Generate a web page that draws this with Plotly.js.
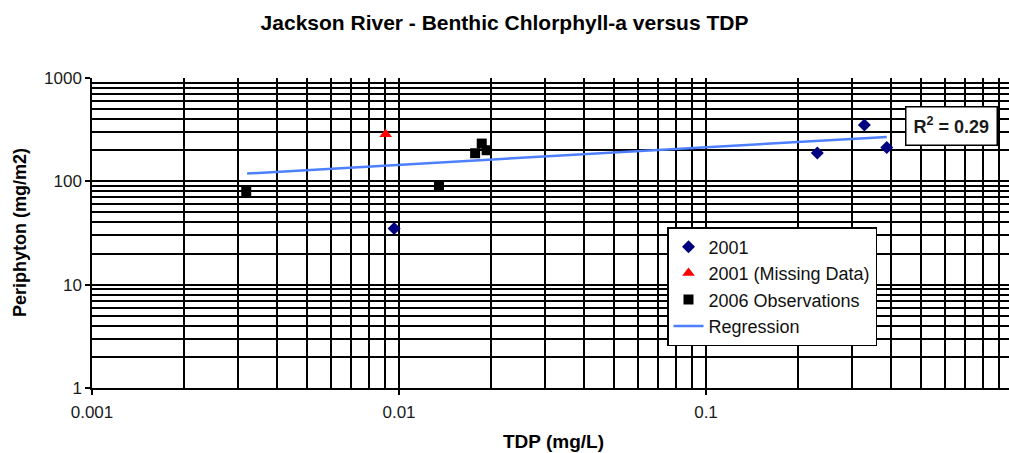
<!DOCTYPE html>
<html>
<head>
<meta charset="utf-8">
<script src="https://cdn.plot.ly/plotly-3.0.1.min.js"></script>
<style>html,body{margin:0;padding:0;overflow:hidden;background:#fff}#chart{width:1009px;height:453px}</style>
</head>
<body>
<div id="chart"></div>
<script>
// Data
const tdp2001 = [0.00964, 0.2305, 0.328, 0.388];
const peri2001 = [35, 188, 350, 212];
const tdpMissing = [0.00905];
const periMissing = [286];
const tdp2006 = [0.00318, 0.0135, 0.0177, 0.0186, 0.0193];
const peri2006 = [80, 89, 187, 232, 200];
const regTdp = [0.0032, 0.388];
const regPeri = [119, 269];
const rSquared = "0.29";

const xMajor = [0.001, 0.01, 0.1, 1];
const xMajorText = ["0.001", "0.01", "0.1", "1"];
const yMajor = [1, 10, 100, 1000];
const yMajorText = ["1", "10", "100", "1000"];

function minorVals(loExp, hiExp) {
  const out = [];
  for (let e = loExp; e < hiExp; e++)
    for (let k = 2; k <= 9; k++) out.push(Number((k * Math.pow(10, e)).toPrecision(6)));
  return out;
}

const font = "Liberation Sans, Arial, sans-serif";

const traces = [
  {x: tdp2001, y: peri2001, mode: 'markers', type: 'scatter', name: '2001',
   marker: {symbol: 'diamond', color: '#000080', size: 10}},
  {x: tdpMissing, y: periMissing, mode: 'markers', type: 'scatter', name: '2001 (Missing Data)',
   marker: {symbol: 'triangle-up', color: '#ff0000', size: 11}},
  {x: tdp2006, y: peri2006, mode: 'markers', type: 'scatter', name: '2006 Observations',
   marker: {symbol: 'square', color: '#000000', size: 10}},
  {x: regTdp, y: regPeri, mode: 'lines', type: 'scatter', name: 'Regression',
   line: {color: '#4d7fff', width: 2.5}}
];

const layout = {
  width: 1009, height: 453,
  margin: {l: 92, r: 0, t: 78, b: 65},
  paper_bgcolor: '#fff', plot_bgcolor: '#fff',
  title: {text: 'Jackson River - Benthic Chlorphyll-a versus TDP',
          font: {family: font, size: 21, color: '#000', weight: 'bold'},
          x: 0.5, xref: 'container', y: 0.95, yref: 'container', yanchor: 'middle'},
  showlegend: true,
  legend: {x: (667 - 92) / 917, y: (388 - 227) / 310, xanchor: 'left', yanchor: 'top',
           bgcolor: '#fff', bordercolor: '#000', borderwidth: 1.5,
           font: {family: font, size: 18, color: '#111'}},
  xaxis: {
    type: 'log', range: [-3, -3 + 917 / 307],
    tickmode: 'array', tickvals: xMajor, ticktext: xMajorText,
    ticks: 'outside', ticklen: 5, tickcolor: '#000', tickwidth: 1.5,
    ticklabelstandoff: 3,
    tickfont: {family: font, size: 17, color: '#1a1a1a'},
    showline: true, linecolor: '#000', linewidth: 1.5, zeroline: false,
    showgrid: true, gridcolor: '#000', gridwidth: 1.5,
    minor: {tickmode: 'array', tickvals: minorVals(-3, 0), showgrid: true,
            gridcolor: '#000', gridwidth: 1.5, ticks: ''}
  },
  yaxis: {
    type: 'log', range: [0, 3],
    tickmode: 'array', tickvals: yMajor, ticktext: yMajorText,
    ticks: 'outside', ticklen: 5, tickcolor: '#000', tickwidth: 1.5,
    tickfont: {family: font, size: 17, color: '#1a1a1a'},
    showline: true, linecolor: '#000', linewidth: 1.5, zeroline: false,
    showgrid: true, gridcolor: '#000', gridwidth: 1.5,
    minor: {tickmode: 'array', tickvals: minorVals(0, 3), showgrid: true,
            gridcolor: '#000', gridwidth: 1.5, ticks: ''}
  },
  annotations: [
    {xref: 'paper', yref: 'paper', x: (553 - 92) / 917, y: -(441 - 388) / 310,
     text: '<b>TDP (mg/L)</b>', showarrow: false, xanchor: 'center', yanchor: 'middle',
     font: {family: font, size: 19, color: '#000'}},
    {xref: 'paper', yref: 'paper', x: -(92 - 20) / 917, y: 0.5, textangle: -90,
     text: '<b>Periphyton (mg/m2)</b>', showarrow: false, xanchor: 'center', yanchor: 'middle',
     font: {family: font, size: 18, color: '#000'}},
    {xref: 'paper', yref: 'paper', x: (905 - 92) / 917, y: (388 - 106) / 310,
     text: '<b>R<sup>2</sup> = ' + rSquared + '</b>', showarrow: false, xanchor: 'left', yanchor: 'top',
     bgcolor: '#fff', bordercolor: '#000', borderwidth: 1.5, borderpad: 7,
     font: {family: font, size: 18, color: '#1a1a1a'}}
  ]
};

Plotly.newPlot('chart', traces, layout, {displayModeBar: false});
</script>
</body>
</html>
